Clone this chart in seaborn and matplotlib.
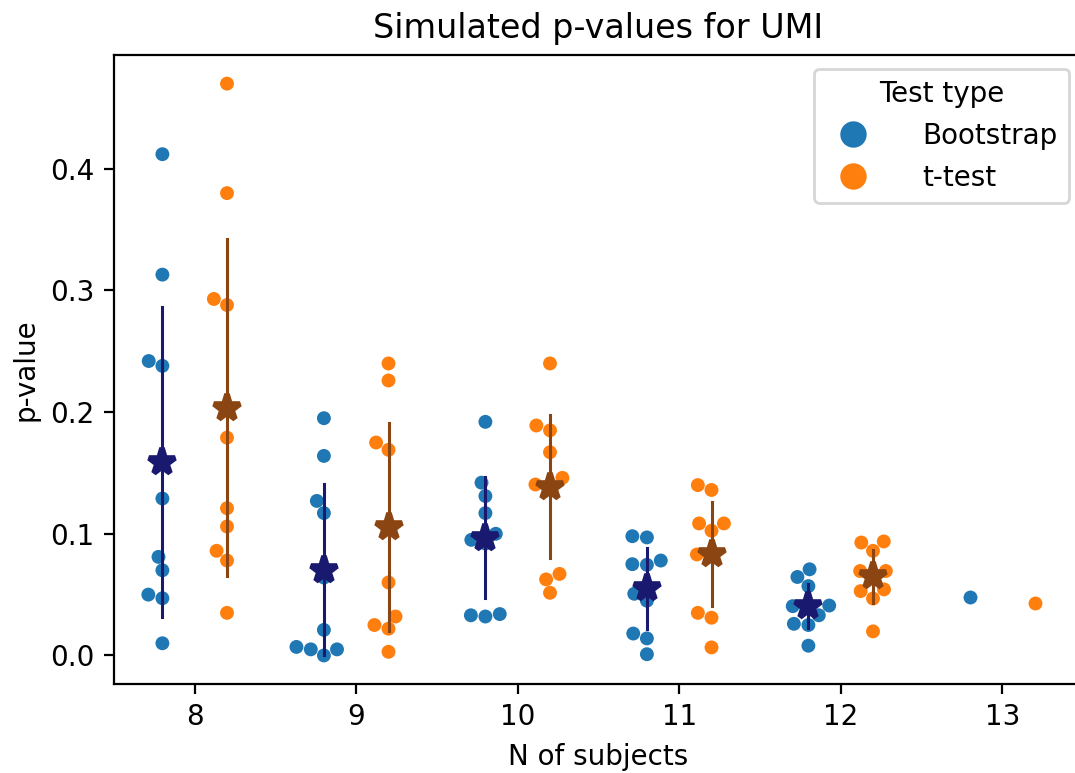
import numpy as np
import pandas as pd
import matplotlib
matplotlib.use("Agg")
import matplotlib.pyplot as plt
from matplotlib.lines import Line2D
import seaborn as sns

# ---- data ----
n_subjects = [8, 9, 10, 11, 12, 13]
test_types = ["Bootstrap", "t-test"]

boot_8 = [0.412, 0.313, 0.242, 0.238, 0.129, 0.081, 0.070, 0.050, 0.047, 0.010]
boot_9 = [0.195, 0.164, 0.127, 0.117, 0.064, 0.021, 0.005, 0.000, 0.005, 0.007]
boot_10 = [0.192, 0.142, 0.131, 0.117, 0.100, 0.095, 0.092, 0.033, 0.032, 0.034]
boot_11 = [0.098, 0.097, 0.075, 0.0745, 0.078, 0.0507, 0.045, 0.018, 0.014, 0.001]
boot_12 = [0.0708, 0.0645, 0.057, 0.0405, 0.040, 0.041, 0.033, 0.026, 0.025, 0.008]
boot_13 = [0.048]

ttest_8 = [0.470, 0.380, 0.293, 0.288, 0.179, 0.121, 0.106, 0.086, 0.078, 0.035]
ttest_9 = [0.240, 0.226, 0.175, 0.169, 0.106, 0.060, 0.032, 0.025, 0.022, 0.003]
ttest_10 = [0.240, 0.189, 0.185, 0.167, 0.146, 0.1405, 0.140, 0.067, 0.0625, 0.0515]
ttest_11 = [0.140, 0.136, 0.1085, 0.1025, 0.1085, 0.0826, 0.083, 0.035, 0.031, 0.0066]
ttest_12 = [0.0928, 0.0937, 0.086, 0.0694, 0.0694, 0.064, 0.0529, 0.0543, 0.0468, 0.0198]
ttest_13 = [0.043]

boot_groups = [boot_8, boot_9, boot_10, boot_11, boot_12, boot_13]
ttest_groups = [ttest_8, ttest_9, ttest_10, ttest_11, ttest_12, ttest_13]

rows = []
for n, b, t in zip(n_subjects, boot_groups, ttest_groups):
    for v in b:
        rows.append({"N": n, "Test type": "Bootstrap", "p-value": v})
    for v in t:
        rows.append({"N": n, "Test type": "t-test", "p-value": v})
df = pd.DataFrame(rows)
df_mean = df[df["N"] < 13]

swarm_colors = ["#1f77b4", "#ff7f0e"]
point_colors = ["midnightblue", "saddlebrown"]


def sd_interval(x):
    m = np.mean(x)
    s = np.std(x)
    return (m - s, m + s)


fig = plt.figure(figsize=(5.375, 3.865), dpi=200)
ax = fig.add_axes([0.106, 0.1151, 0.9014, 0.8137])

sns.swarmplot(data=df, x="N", y="p-value", hue="Test type", order=n_subjects,
              hue_order=test_types, palette=swarm_colors, dodge=True, size=5,
              legend=False, ax=ax, zorder=1)
sns.pointplot(data=df_mean, x="N", y="p-value", hue="Test type", order=n_subjects,
              hue_order=test_types, palette=point_colors, dodge=0.4,
              markers="*", linestyles="none", markersize=10,
              errorbar=sd_interval, err_kws={"linewidth": 1.1, "zorder": 5},
              legend=False, ax=ax, zorder=6)

for ln in ax.lines:
    ln.set_zorder(6)

ax.set_xlim(-0.5, 5.5)
ax.set_title("Simulated p-values for UMI", fontsize=12)
ax.set_xlabel("N of subjects", fontsize=10)
ax.set_ylabel("p-value", fontsize=10)
ax.tick_params(labelsize=10)

handles = [Line2D([], [], marker="o", linestyle="none", color=c, markersize=8.5)
           for c in swarm_colors]
ax.legend(handles, test_types, title="Test type", loc="upper right",
          fontsize=10, title_fontsize=10, handletextpad=1.5)

fig.savefig("out.png", dpi=200)
